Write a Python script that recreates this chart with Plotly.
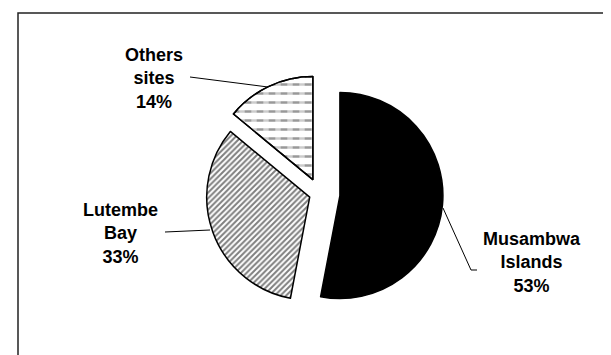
import plotly.graph_objects as go

W, H = 611, 355

labels = ["Musambwa Islands", "Lutembe Bay", "Others sites"]
values = [53, 33, 14]
label_text = ["Musambwa<br>Islands<br>53%", "Lutembe<br>Bay<br>33%", "Others<br>sites<br>14%"]
pulls = [0.2, 0.1, 0.15]

fills = ["black", "white", "white"]
pattern_shapes = ["", "/", "-"]
pattern_fg = ["black", "black", "#333"]
pattern_size = [6, 4, 9]
pattern_solidity = [0.3, 0.5, 0.28]

# pie geometry (pixels)
cx, cy, R = 311.4, 185.6, 103
half = R * (1 + max(pulls))
domain = dict(x=[(cx - half) / W, (cx + half) / W],
              y=[(H - cy - half) / H, (H - cy + half) / H])

fig = go.Figure()
fig.add_trace(go.Pie(
    labels=labels,
    values=values,
    sort=False,
    direction="clockwise",
    rotation=0,
    pull=pulls,
    textinfo="none",
    hoverinfo="label+percent",
    showlegend=False,
    marker=dict(
        colors=fills,
        line=dict(color="black", width=1.5),
        pattern=dict(shape=pattern_shapes, fgcolor=pattern_fg, bgcolor=fills,
                     size=pattern_size, solidity=pattern_solidity, fillmode="overlay"),
    ),
    domain=domain,
))

# overlay that breaks the horizontal lines of the "Others" slice into dashes
clear = "rgba(0,0,0,0)"
fig.add_trace(go.Pie(
    labels=labels,
    values=values,
    sort=False,
    direction="clockwise",
    rotation=0,
    pull=pulls,
    textinfo="none",
    hoverinfo="skip",
    showlegend=False,
    marker=dict(
        colors=[clear, clear, clear],
        line=dict(color=[clear, clear, "black"], width=1.5),
        pattern=dict(shape=["", "", "|"], fgcolor=["white", "white", "white"],
                     bgcolor=[clear, clear, clear], size=12, solidity=0.45,
                     fillmode="overlay"),
    ),
    domain=domain,
))

def px(x):
    return x / W

def py(y):
    return 1 - y / H

# label annotations (pixel centres)
label_pos = [(524, 254), (112, 225), (146, 71)]
for txt, (x, y) in zip(label_text, label_pos):
    fig.add_annotation(x=px(x), y=py(y), xref="paper", yref="paper",
                       text="<b>" + txt + "</b>", showarrow=False,
                       xanchor="center", yanchor="middle", align="center",
                       font=dict(family="Liberation Sans, Arial", size=18, color="black"))

# leader lines
leaders = [
    [(435, 200), (463, 262), (469, 262)],
    [(157, 224), (202, 222)],
    [(182, 69), (260, 79)],
]
for pts in leaders:
    path = "M " + " L ".join(f"{px(x)},{py(y)}" for x, y in pts)
    fig.add_shape(type="path", path=path, xref="paper", yref="paper",
                  line=dict(color="black", width=1))

# chart border
fig.add_shape(type="rect", xref="paper", yref="paper",
              x0=px(10), x1=1.05, y0=-0.05, y1=py(5),
              line=dict(color="#222", width=1.5), fillcolor="rgba(0,0,0,0)")

fig.update_layout(width=W, height=H, margin=dict(l=0, r=0, t=0, b=0),
                  paper_bgcolor="white", plot_bgcolor="white")
fig.write_html("out.html")
